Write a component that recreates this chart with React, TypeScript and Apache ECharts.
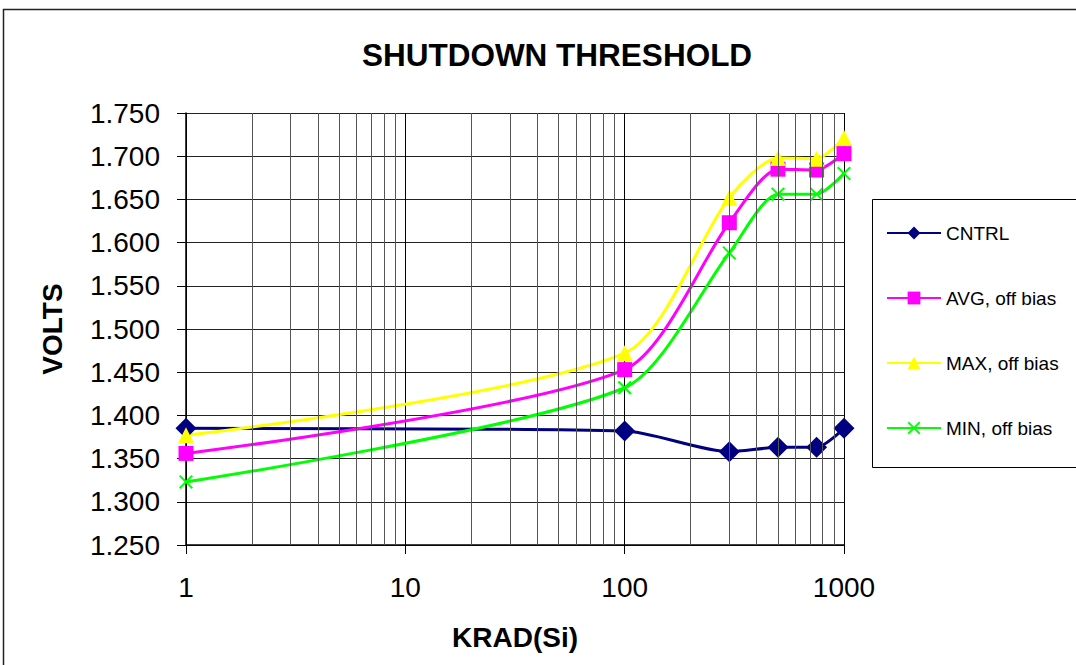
import React, { useEffect, useRef } from "react";
import * as echarts from "echarts";

const krad = [1, 100, 300, 500, 750, 1000];
const cntrl = [1.385, 1.382, 1.358, 1.363, 1.363, 1.385];
const avgOff = [1.356, 1.453, 1.623, 1.685, 1.684, 1.703];
const maxOff = [1.377, 1.472, 1.652, 1.698, 1.697, 1.721];
const minOff = [1.323, 1.432, 1.588, 1.656, 1.656, 1.680];
const minorX = [2, 3, 4, 5, 6, 7, 8, 9, 20, 30, 40, 50, 60, 70, 80, 90, 200, 300, 400, 500, 600, 700, 800, 900];
const seriesNames = ["CNTRL", "AVG, off bias", "MAX, off bias", "MIN, off bias"];

const FONT = "'Liberation Sans', Arial, sans-serif";
const X_SYMBOL = "path://M0,1 L1,0 L5,4 L9,0 L10,1 L6,5 L10,9 L9,10 L5,6 L1,10 L0,9 L4,5 Z";

export default function App() {
  const ref = useRef<HTMLDivElement>(null);
  useEffect(() => {
    document.body.style.margin = "0";
    const chart = echarts.init(ref.current!, null, { renderer: "svg" });
    const pts = (ys: number[]) => krad.map((x, i) => [x, ys[i]]);
    const mk = (name: string, ys: number[], color: string, symbol: string, size: number) => ({
      name,
      type: "line",
      data: pts(ys),
      smooth: 0.25,
      symbol,
      symbolSize: size,
      z: 3,
      lineStyle: { color, width: 3 },
      itemStyle: { color },
    });
    chart.setOption({
      animation: false,
      backgroundColor: "#fff",
      title: {
        text: "SHUTDOWN THRESHOLD",
        left: 552,
        top: 34,
        textAlign: "center",
        textStyle: { fontFamily: FONT, fontSize: 31.5, fontWeight: "bold", color: "#000" },
      },
      graphic: [
        {
          type: "rect",
          shape: { x: 3.5, y: 9.5, width: 1100, height: 700 },
          style: { fill: "none", stroke: "#222", lineWidth: 1.5 },
          silent: true,
        },
        {
          type: "rect",
          shape: { x: 872.5, y: 199.5, width: 260, height: 268 },
          style: { fill: "#fff", stroke: "#000", lineWidth: 1 },
          silent: true,
        },
      ],
      legend: {
        data: seriesNames,
        orient: "vertical",
        left: 886,
        top: 223,
        itemWidth: 54,
        itemHeight: 16,
        itemGap: 45,
        padding: 0,
        textStyle: { fontFamily: FONT, fontSize: 19, color: "#000", lineHeight: 20 },
      },
      grid: { left: 186, right: 232, top: 113, bottom: 120, containLabel: false },
      xAxis: {
        type: "log",
        logBase: 10,
        min: 1,
        max: 1000,
        name: "KRAD(Si)",
        nameLocation: "middle",
        nameGap: 78,
        nameTextStyle: { fontFamily: FONT, fontSize: 28, fontWeight: "bold", color: "#000" },
        axisLine: { lineStyle: { color: "#000", width: 1.5 } },
        axisTick: { show: true, length: 9, inside: false, lineStyle: { color: "#000" } },
        axisLabel: {
          fontFamily: FONT,
          fontSize: 28,
          color: "#000",
          margin: 28,
          formatter: (v: number) => String(Math.round(v)),
        },
        splitLine: { show: true, lineStyle: { color: "#000", width: 1 } },
      },
      yAxis: {
        type: "value",
        min: 1.25,
        max: 1.75,
        interval: 0.05,
        name: "VOLTS",
        nameLocation: "middle",
        nameGap: 120,
        nameRotate: 90,
        nameTextStyle: { fontFamily: FONT, fontSize: 28, fontWeight: "bold", color: "#000" },
        axisLine: { show: true, lineStyle: { color: "#000", width: 1.5 } },
        axisTick: { show: true, length: 9, inside: false, lineStyle: { color: "#000" } },
        axisLabel: {
          fontFamily: FONT,
          fontSize: 28,
          color: "#000",
          margin: 26,
          formatter: (v: number) => v.toFixed(3),
        },
        splitLine: { show: true, lineStyle: { color: "#222", width: 1 } },
      },
      series: [
        {
          name: "minor-grid",
          type: "line",
          data: [],
          z: 1,
          silent: true,
          markLine: {
            silent: true,
            symbol: ["none", "none"],
            label: { show: false },
            lineStyle: { color: "#555", width: 1, type: "solid" },
            emphasis: { disabled: true },
            data: minorX.map((v) => ({ xAxis: v })),
          },
        },
        mk(seriesNames[0], cntrl, "#000080", "diamond", 21),
        mk(seriesNames[1], avgOff, "#ff00ff", "rect", 15),
        mk(seriesNames[2], maxOff, "#ffff00", "triangle", 16),
        mk(seriesNames[3], minOff, "#00ff00", X_SYMBOL, 14),
      ],
    });
    return () => chart.dispose();
  }, []);
  return <div ref={ref} style={{ width: 1076, height: 665 }} />;
}
